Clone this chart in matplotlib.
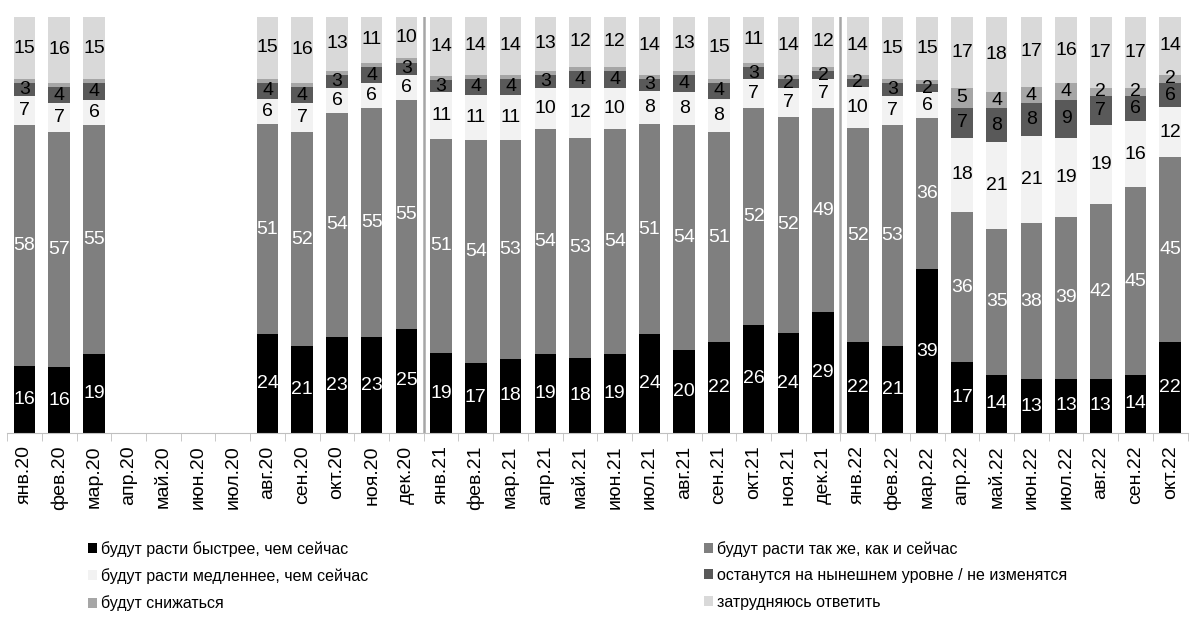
import matplotlib.pyplot as plt
import numpy as np

months = ['янв.20', 'фев.20', 'мар.20', 'апр.20', 'май.20', 'июн.20', 'июл.20',
          'авг.20', 'сен.20', 'окт.20', 'ноя.20', 'дек.20',
          'янв.21', 'фев.21', 'мар.21', 'апр.21', 'май.21', 'июн.21', 'июл.21',
          'авг.21', 'сен.21', 'окт.21', 'ноя.21', 'дек.21',
          'янв.22', 'фев.22', 'мар.22', 'апр.22', 'май.22', 'июн.22', 'июл.22',
          'авг.22', 'сен.22', 'окт.22']

# None = no survey that month
faster = [16, 16, 19, None, None, None, None, 24, 21, 23, 23, 25,
          19, 17, 18, 19, 18, 19, 24, 20, 22, 26, 24, 29,
          22, 21, 39, 17, 14, 13, 13, 13, 14, 22]
same = [58, 57, 55, None, None, None, None, 51, 52, 54, 55, 55,
        51, 54, 53, 54, 53, 54, 51, 54, 51, 52, 52, 49,
        52, 53, 36, 36, 35, 38, 39, 42, 45, 45]
slower = [7, 7, 6, None, None, None, None, 6, 7, 6, 6, 6,
          11, 11, 11, 10, 12, 10, 8, 8, 8, 7, 7, 7,
          10, 7, 6, 18, 21, 21, 19, 19, 16, 12]
unchanged = [3, 4, 4, None, None, None, None, 4, 4, 3, 4, 3,
             3, 4, 4, 3, 4, 4, 3, 4, 4, 3, 2, 2,
             2, 3, 2, 7, 8, 8, 9, 7, 6, 6]
decrease = [1, 1, 1, None, None, None, None, 1, 1, 1, 1, 1,
            1, 1, 1, 1, 1, 1, 1, 1, 1, 1, 1, 1,
            1, 1, 1, 5, 4, 4, 4, 2, 2, 2]
hard = [15, 16, 15, None, None, None, None, 15, 16, 13, 11, 10,
        14, 14, 14, 13, 12, 12, 14, 13, 15, 11, 14, 12,
        14, 15, 15, 17, 18, 17, 16, 17, 17, 14]

series = [
    ('будут расти быстрее, чем сейчас', faster, '#000000', 'white'),
    ('будут расти так же, как и сейчас', same, '#7f7f7f', 'white'),
    ('будут расти медленнее, чем сейчас', slower, '#f2f2f2', 'black'),
    ('останутся на нынешнем уровне / не изменятся', unchanged, '#595959', 'black'),
    ('будут снижаться', decrease, '#a6a6a6', 'black'),
    ('затрудняюсь ответить', hard, '#d9d9d9', 'black'),
]

plt.rcParams['font.family'] = ['Liberation Sans', 'DejaVu Sans']

vals = np.array([[np.nan if v is None else v for v in s[1]] for s in series], dtype=float)
totals = np.nansum(vals, axis=0)
totals[totals == 0] = 1
shares = np.nan_to_num(vals) / totals * 100

fig = plt.figure(figsize=(11.9, 6.23), dpi=100)
ax = fig.add_axes([0.006, 0.305, 0.992, 0.668])

x = np.arange(len(months))
bottom = np.zeros(len(months))
handles = []
for i, (name, raw, color, tcolor) in enumerate(series):
    bars = ax.bar(x, shares[i], 0.62, bottom=bottom, color=color, label=name, linewidth=0)
    handles.append(bars)
    labels = []
    for v in raw:
        if v is None or (name == 'будут снижаться' and v < 2):
            labels.append('')
        else:
            labels.append(str(v))
    ax.bar_label(bars, labels=labels, label_type='center', color=tcolor, fontsize=14)
    bottom += shares[i]

for sep in [11.5, 23.5]:
    ax.axvline(sep, ymin=0, ymax=1, color='#a6a6a6', linewidth=1.8)

ax.set_xlim(-0.5, len(months) - 0.5)
ax.set_ylim(0, 100)
ax.set_yticks([])
for s in ['top', 'right', 'left']:
    ax.spines[s].set_visible(False)
ax.spines['bottom'].set_color('#bfbfbf')

ax.set_xticks(x)
ax.set_xticklabels(months, rotation=90, fontsize=14)
ax.tick_params(axis='x', which='major', length=0, pad=9)
ax.set_xticks(np.arange(-0.5, len(months), 1), minor=True)
ax.tick_params(axis='x', which='minor', length=6, color='#bfbfbf')

order = [0, 2, 4, 1, 3, 5]
fig.legend([handles[i] for i in order], [series[i][0] for i in order],
           loc='upper left', bbox_to_anchor=(0.074, 0.132), ncol=2, frameon=False,
           fontsize=11.5, handlelength=0.58, handleheight=0.58, handletextpad=0.25,
           labelspacing=0.72, columnspacing=21.0, borderaxespad=0, borderpad=0)

fig.savefig('out.png', dpi=100)
